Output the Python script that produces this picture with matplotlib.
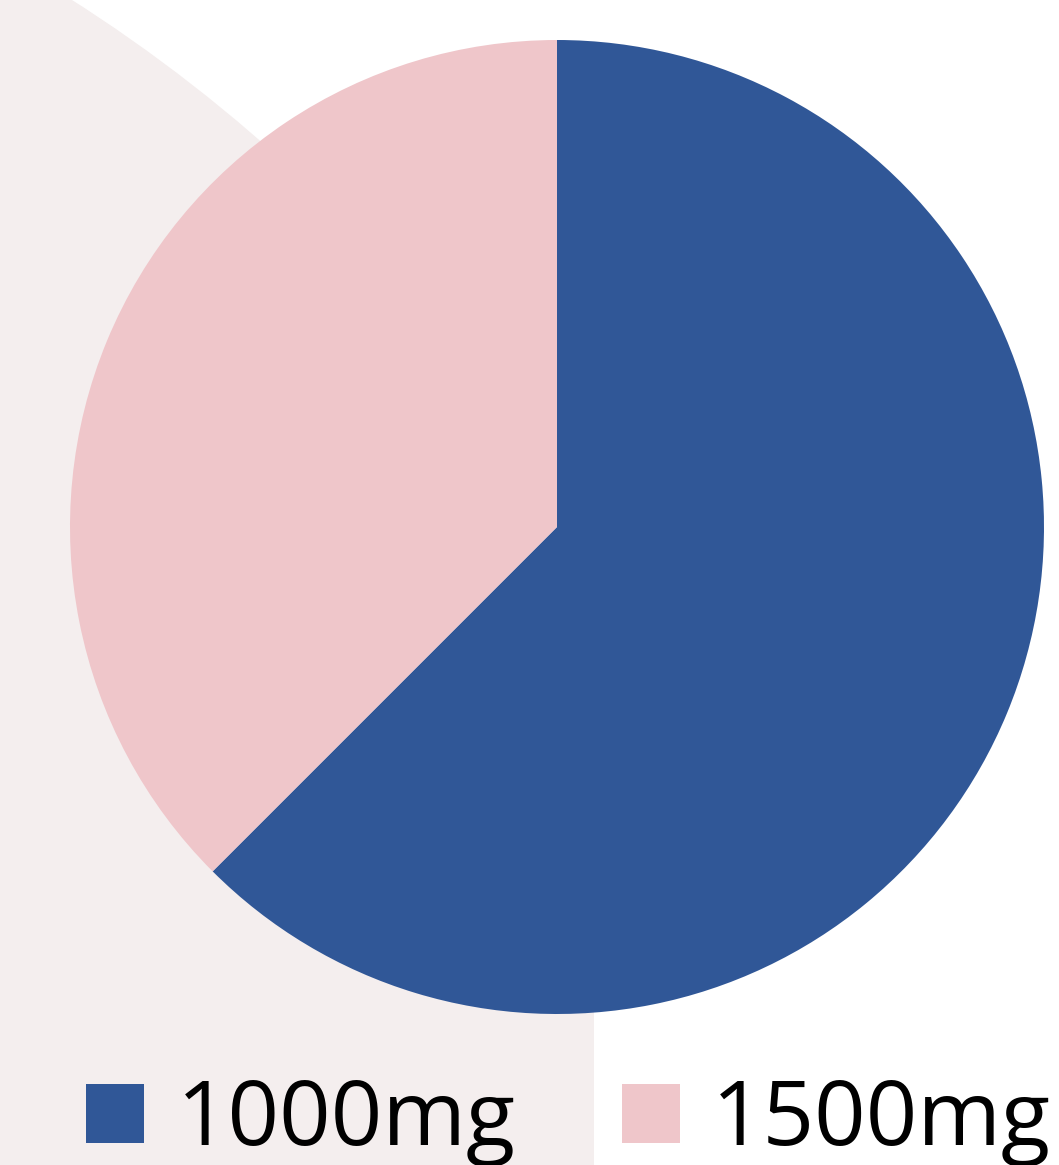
import matplotlib.pyplot as plt
from matplotlib.patches import Circle, Rectangle

labels = ["1000mg", "1500mg"]
shares = [62.5, 37.5]
colors = ["#305797", "#EFC6CA"]

plt.rcParams['font.family'] = ['Open Sans', 'DejaVu Sans']

W, H = 1059, 1165
fig = plt.figure(figsize=(W / 100, H / 100), dpi=100)

# background decoration (pixel coordinates)
bg = fig.add_axes([0, 0, 1, 1])
bg.set_xlim(0, W)
bg.set_ylim(H, 0)
bg.axis('off')
clip = Rectangle((0, 0), 594, H, transform=bg.transData)
blob = Circle((-765, 1314), 1558, color="#F4EEEE", lw=0)
bg.add_patch(blob)
blob.set_clip_path(clip)

# pie
ax = fig.add_axes([70 / W, (H - 1014) / H, 974 / W, 974 / H])
wedges, _ = ax.pie(shares, colors=colors, startangle=90, counterclock=False,
                   radius=1, wedgeprops=dict(linewidth=0))
ax.set_xlim(-1, 1)
ax.set_ylim(-1, 1)
ax.set_aspect('equal')
ax.axis('off')

fig.legend(wedges, labels, loc='center', bbox_to_anchor=(0.537, 0.037),
           ncol=2, frameon=False, fontsize=65, handlelength=0.64,
           handleheight=0.64, handletextpad=0.36, columnspacing=1.18,
           borderpad=0, borderaxespad=0)

fig.savefig("out.png", dpi=100)
